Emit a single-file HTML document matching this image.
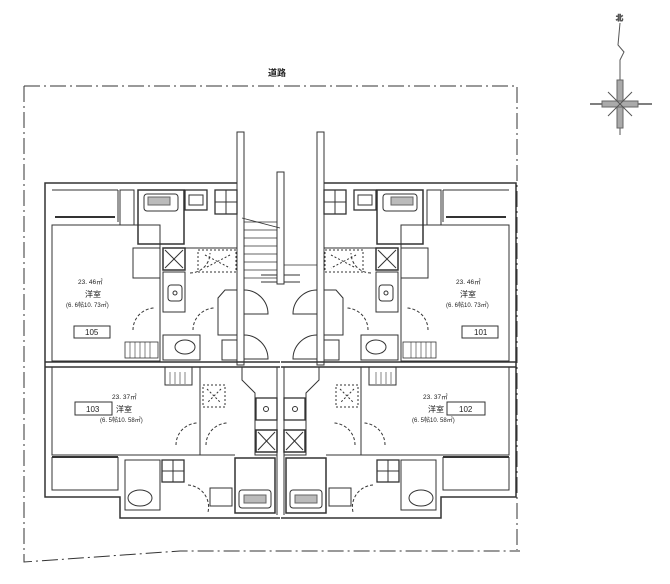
<!DOCTYPE html>
<html><head><meta charset="utf-8"><style>
html,body{margin:0;padding:0;background:#fff;}
svg{display:block;}
text{font-family:"Liberation Sans","Noto Sans CJK JP",sans-serif;fill:#222;}
</style></head><body>
<svg width="670" height="584" viewBox="0 0 670 584" xmlns="http://www.w3.org/2000/svg">
<g fill="none" stroke="#333" stroke-width="1" stroke-dasharray="16,4,2,4">
<polyline points="24,86 517,86 517,550"/>
<polyline points="24,86 24,562 180,551 520,551"/>
</g>
<text x="268" y="76" font-size="9" font-weight="bold">道路</text>
<g stroke="#555" fill="none">
<text x="616" y="20" font-size="7">北</text>
<polyline points="620,23 618,45 624,52 620,60 620,135" stroke-width="1"/>
<line x1="590" y1="104" x2="652" y2="104" stroke-width="1.5"/>
<rect x="617" y="80" width="6" height="48" fill="#aaa" stroke="#666"/>
<rect x="602" y="101" width="36" height="6" fill="#aaa" stroke="#666"/>
<line x1="608" y1="92" x2="632" y2="116"/><line x1="632" y1="92" x2="608" y2="116"/>
</g>
<defs>
<g id="half" fill="none" stroke="#333" stroke-width="1">
  <polyline points="45,365 45,183 237,183" stroke-width="1.5"/>
  <line x1="52" y1="190" x2="118" y2="190"/>
  <line x1="118" y1="190" x2="118" y2="222"/>
  <line x1="55" y1="217" x2="115" y2="217" stroke-width="2"/>
  <rect x="120" y="190" width="14" height="35"/>
  <rect x="237" y="132" width="7" height="233"/>
  <rect x="277" y="172" width="7" height="112"/>
  <line x1="284" y1="275" x2="300" y2="275"/><line x1="284" y1="282" x2="300" y2="282"/>
  <rect x="52" y="225" width="108" height="136"/>
  <rect x="138" y="190" width="46" height="54" stroke-width="1.5"/>
  <rect x="144" y="194" width="34" height="17" rx="3"/>
  <rect x="148" y="197" width="22" height="8" fill="#bbb" stroke="#666"/>
  <rect x="185" y="190" width="22" height="20" stroke-width="1.3"/>
  <rect x="189" y="195" width="14" height="10"/>
  <rect x="215" y="190" width="22" height="24" stroke-width="1.3"/>
  <line x1="226" y1="190" x2="226" y2="214"/><line x1="215" y1="202" x2="237" y2="202"/>
  <rect x="133" y="248" width="27" height="30"/>
  <rect x="163" y="248" width="22" height="22" stroke-width="1.5"/>
  <line x1="165" y1="250" x2="183" y2="268"/><line x1="183" y1="250" x2="165" y2="268"/>
  <rect x="163" y="272" width="22" height="40"/>
  <rect x="168" y="285" width="14" height="16" rx="3"/>
  <circle cx="175" cy="293" r="2"/>
  <rect x="163" y="335" width="37" height="25"/>
  <ellipse cx="185" cy="347" rx="10" ry="7"/>
  <rect x="125" y="342" width="33" height="16" stroke-width="0.8"/>
  <g stroke-width="0.6"><line x1="130" y1="342" x2="130" y2="358"/><line x1="135" y1="342" x2="135" y2="358"/><line x1="140" y1="342" x2="140" y2="358"/><line x1="145" y1="342" x2="145" y2="358"/><line x1="150" y1="342" x2="150" y2="358"/></g>
  <line x1="185" y1="248" x2="237" y2="248"/>
  <rect x="198" y="250" width="38" height="22" stroke-dasharray="2,2"/>
  <line x1="205" y1="255" x2="230" y2="268" stroke-dasharray="2,2"/><line x1="230" y1="255" x2="205" y2="268" stroke-dasharray="2,2"/>
  <g stroke-dasharray="3,2">
   <path d="M133,330 A22,22 0 0 1 155,308"/>
   <path d="M193,330 A22,22 0 0 1 215,308"/>
   <path d="M190,273 A20,20 0 0 0 210,253"/>
  </g>
  <polyline points="237,290 225,290 218,298 218,335 237,335"/>
  <path d="M244,290 A24,24 0 0 1 268,314 L244,314"/>
  <path d="M244,335 A24,24 0 0 1 268,359 L244,359"/>
  <rect x="222" y="340" width="15" height="20"/>
  <line x1="45" y1="362" x2="280" y2="362" stroke-width="1.5"/>
  <line x1="45" y1="367" x2="280" y2="367" stroke-width="1.5"/>
  <polyline points="45,365 45,497 120,497 120,518 280,518" stroke-width="1.5"/>
  <rect x="52" y="367" width="148" height="88"/>
  <line x1="52" y1="457" x2="118" y2="457" stroke-width="2"/>
  <polyline points="52,457 52,490 118,490 118,457"/>
  <rect x="165" y="367" width="27" height="18"/>
  <g stroke-width="0.6"><line x1="170" y1="372" x2="170" y2="384"/><line x1="175" y1="372" x2="175" y2="384"/><line x1="180" y1="372" x2="180" y2="384"/><line x1="185" y1="372" x2="185" y2="384"/></g>
  <rect x="203" y="385" width="22" height="22" stroke-dasharray="2,2"/>
  <line x1="207" y1="389" x2="221" y2="403" stroke-dasharray="2,2"/><line x1="221" y1="389" x2="207" y2="403" stroke-dasharray="2,2"/>
  <line x1="200" y1="375" x2="200" y2="455"/>
  <rect x="125" y="460" width="35" height="50"/>
  <ellipse cx="140" cy="498" rx="12" ry="8"/>
  <rect x="162" y="460" width="22" height="22" stroke-width="1.3"/>
  <line x1="173" y1="460" x2="173" y2="482"/><line x1="162" y1="471" x2="184" y2="471"/>
  <rect x="210" y="488" width="22" height="18"/>
  <rect x="235" y="458" width="40" height="55" stroke-width="1.5"/>
  <rect x="239" y="490" width="32" height="18" rx="3"/>
  <rect x="244" y="495" width="22" height="8" fill="#bbb" stroke="#666"/>
  <g stroke-dasharray="3,2">
   <path d="M176,445 A22,22 0 0 1 198,423"/>
   <path d="M206,445 A22,22 0 0 1 228,423"/>
   <path d="M188,485 A22,22 0 0 1 208,512"/>
  </g>
  <polyline points="242,367 242,380 255,393 255,455 277,455"/>
  <rect x="256" y="398" width="21" height="22" stroke-width="1.3"/>
  <circle cx="266" cy="409" r="2.5"/>
  <rect x="256" y="430" width="21" height="22" stroke-width="1.5"/>
  <line x1="258" y1="432" x2="275" y2="450"/><line x1="275" y1="432" x2="258" y2="450"/>
  <line x1="277" y1="367" x2="277" y2="515"/>
  <line x1="200" y1="455" x2="235" y2="455"/>
</g>
</defs>
<use href="#half"/>
<use href="#half" transform="translate(561,0) scale(-1,1)"/>
<g fill="none" stroke="#333" stroke-width="0.8">
 <line x1="244" y1="222" x2="277" y2="222"/><line x1="244" y1="230" x2="277" y2="230"/>
 <line x1="244" y1="238" x2="277" y2="238"/><line x1="244" y1="246" x2="277" y2="246"/>
 <line x1="244" y1="254" x2="277" y2="254"/><line x1="244" y1="262" x2="277" y2="262"/>
 <line x1="244" y1="270" x2="277" y2="270"/><line x1="244" y1="278" x2="277" y2="278"/>
 <line x1="242" y1="218" x2="280" y2="228"/>
 <line x1="284" y1="265" x2="317" y2="265"/>
</g>
<g font-size="6.5">
<text x="78" y="284">23. 46㎡</text>
<text x="85" y="297" font-size="8">洋室</text>
<text x="66" y="307" font-size="6">(6. 6帖10. 73㎡)</text>
<rect x="74" y="326" width="36" height="12" fill="none" stroke="#333"/>
<text x="85" y="335" font-size="8">105</text>
<text x="456" y="284">23. 46㎡</text>
<text x="460" y="297" font-size="8">洋室</text>
<text x="446" y="307" font-size="6">(6. 6帖10. 73㎡)</text>
<rect x="462" y="326" width="36" height="12" fill="none" stroke="#333"/>
<text x="474" y="335" font-size="8">101</text>
<text x="112" y="399">23. 37㎡</text>
<rect x="75" y="402" width="37" height="13" fill="none" stroke="#333"/>
<text x="86" y="412" font-size="8">103</text>
<text x="116" y="412" font-size="8">洋室</text>
<text x="100" y="422" font-size="6">(6. 5帖10. 58㎡)</text>
<text x="423" y="399">23. 37㎡</text>
<text x="428" y="412" font-size="8">洋室</text>
<rect x="447" y="402" width="38" height="13" fill="none" stroke="#333"/>
<text x="459" y="412" font-size="8">102</text>
<text x="412" y="422" font-size="6">(6. 5帖10. 58㎡)</text>
</g>
</svg>
</body></html>
